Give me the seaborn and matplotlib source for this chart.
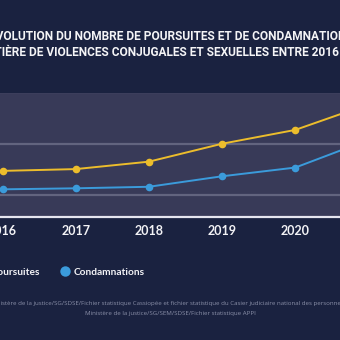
import matplotlib
matplotlib.use("Agg")
import matplotlib.pyplot as plt
from matplotlib.lines import Line2D
import seaborn as sns
import pandas as pd

# Données
annees = [2016, 2017, 2018, 2019, 2020, 2021]
poursuites = [29400, 30100, 33000, 40000, 45400, 55400]
condamnations = [22200, 22600, 23200, 27300, 30700, 41500]
series = ["Poursuites", "Condamnations"]
couleurs = ["#ecbd2c", "#3b9bdb"]
titre = ["ÉVOLUTION DU NOMBRE DE POURSUITES ET DE CONDAMNATIONS",
         "EN MATIÈRE DE VIOLENCES CONJUGALES ET SEXUELLES ENTRE 2016 ET 2021"]
sources = ["Sources : Ministère de la justice/SG/SDSE/Fichier statistique Cassiopée et fichier statistique du Casier judiciaire national des personnes physiques ;",
           "Ministère de la justice/SG/SEM/SDSE/Fichier statistique APPI"]

df = pd.DataFrame({
    "annee": annees * 2,
    "valeur": poursuites + condamnations,
    "serie": [series[0]] * len(annees) + [series[1]] * len(annees),
})

FOND = "#1a2240"
ZONE = "#383a58"
GRILLE = "#62647f"

sns.set_theme(style="white")
plt.rcParams["font.family"] = ["Lato", "DejaVu Sans"]

fig = plt.figure(figsize=(3.4, 3.4), dpi=100, facecolor=FOND)
ax = fig.add_axes([0, (340 - 217) / 340, 1, (217 - 92.5) / 340])
ax.set_facecolor(ZONE)

sns.lineplot(data=df, x="annee", y="valeur", hue="serie", hue_order=series,
             palette=couleurs, marker="o", markersize=5.5, markeredgewidth=0,
             linewidth=1.4, ax=ax, legend=False, zorder=3)

ax.set_yticks([20000, 40000, 60000])
ax.yaxis.grid(True, color=GRILLE, linewidth=1.6)
ax.set_yticklabels([])
ax.tick_params(axis="y", length=0)
ax.set_xticks(annees)
ax.set_xticklabels([str(a) for a in annees], color="#f2f2f5", fontsize=9,
                   fontweight="bold")
ax.tick_params(axis="x", length=0, pad=6)
ax.set_xlabel("")
ax.set_ylabel("")

# Fenêtre visible (après les graduations, qui élargiraient les limites)
px_an = 73.2
ax.set_xlim(2016 - 2.5 / px_an, 2016 + (340 - 2.5) / px_an)
ax.set_ylim(11400, 60000)

for s in ["top", "left", "right"]:
    ax.spines[s].set_visible(False)
ax.spines["bottom"].set_color("#e6e6ef")
ax.spines["bottom"].set_linewidth(1.6)

# Titre
for i, ligne in enumerate(titre):
    fig.text(0.505, 1 - (37 + 16 * i) / 340, ligne, ha="center", va="center",
             color="#f4f4f6", fontsize=8.6, fontweight="bold",
             family=["Roboto", "DejaVu Sans"])

# Légende
poignees = [Line2D([], [], marker="o", linestyle="", markersize=7.5,
                   markerfacecolor=c, markeredgewidth=0) for c in couleurs]
leg = fig.legend(poignees, series, loc="center", ncol=2, frameon=False,
                 bbox_to_anchor=(61 / 340, 1 - 272 / 340), handletextpad=0.4,
                 columnspacing=2.0, handlelength=1.0,
                 prop={"family": "Lato", "weight": "bold", "size": 7.3})
for t in leg.get_texts():
    t.set_color("#f2f2f5")

# Sources
for i, ligne in enumerate(sources):
    fig.text(0.5, 1 - (303 + 10 * i) / 340, ligne, ha="center", va="center",
             color="#8a8fa8", fontsize=4.4, family=["Open Sans"])

fig.savefig("out.png", dpi=100, facecolor=FOND)
